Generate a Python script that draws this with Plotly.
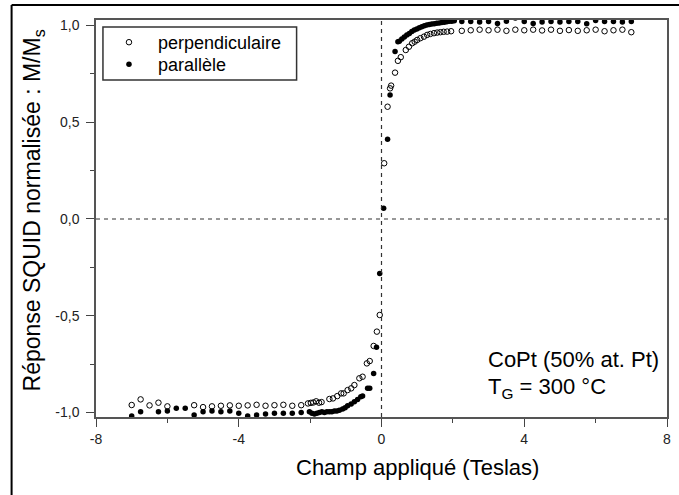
import plotly.graph_objects as go

# Applied field (T) and normalised SQUID response M/Ms, perpendicular geometry
perp_field = [-7.0, -6.75, -6.5, -6.25, -6.0, -5.25, -5.0, -4.75, -4.5, -4.25,
              -4.0, -3.75, -3.5, -3.25, -3.0, -2.75, -2.5, -2.25,
              -2.06, -1.98, -1.91, -1.83, -1.75, -1.68,
              -1.46, -1.36, -1.24, -1.13, -1.06, -0.95, -0.85, -0.76, -0.62, -0.53,
              -0.41, -0.33, -0.22, -0.13, -0.05, 0.075, 0.17, 0.24, 0.27, 0.38,
              0.46, 0.54, 0.68, 0.77, 0.86, 0.93, 1.0, 1.09, 1.19, 1.28, 1.37,
              1.47, 1.56, 1.65, 1.74, 1.84, 1.95,
              2.25, 2.5, 2.75, 3.0, 3.25, 3.5, 3.75, 4.0, 4.25, 4.5,
              4.75, 5.0, 5.25, 5.5, 5.75, 6.0, 6.25, 6.5, 6.75, 7.0]
perp_moment = [-0.961, -0.932, -0.963, -0.949, -0.968, -0.962, -0.972, -0.968, -0.965, -0.963,
               -0.965, -0.963, -0.960, -0.965, -0.962, -0.960, -0.965, -0.962,
               -0.953, -0.950, -0.948, -0.942, -0.949, -0.946,
               -0.930, -0.927, -0.915, -0.901, -0.901, -0.884, -0.875, -0.858, -0.823, -0.815,
               -0.746, -0.734, -0.656, -0.582, -0.496, 0.288, 0.580, 0.675, 0.689, 0.756,
               0.817, 0.836, 0.873, 0.890, 0.908, 0.916, 0.925, 0.934, 0.942, 0.951, 0.956,
               0.960, 0.963, 0.965, 0.967, 0.968, 0.970,
               0.972, 0.975, 0.978, 0.975, 0.978, 0.972, 0.978, 0.975, 0.978, 0.974,
               0.978, 0.972, 0.976, 0.972, 0.975, 0.978, 0.970, 0.975, 0.978, 0.965]

# Parallel geometry
par_field = [-7.0, -6.75, -6.25, -6.0, -5.75, -5.5, -5.25, -5.0, -4.75, -4.5,
             -4.25, -4.0, -3.75, -3.5, -3.25, -3.0, -2.75, -2.5, -2.25,
             -2.02, -1.95, -1.88, -1.81, -1.74, -1.67, -1.60, -1.53, -1.46, -1.39,
             -1.32, -1.25, -1.18, -1.09, -1.02, -0.95, -0.85, -0.76, -0.67, -0.58,
             -0.53, -0.39, -0.33, -0.22, -0.14, -0.05, 0.06, 0.17, 0.24, 0.38, 0.46,
             0.50, 0.57, 0.64, 0.71, 0.78, 0.85, 0.92, 0.99, 1.06, 1.13, 1.20, 1.27,
             1.34, 1.41, 1.48, 1.55, 1.62, 1.69, 1.76, 1.83, 1.90, 1.97, 2.04,
             2.25, 2.5, 2.75, 3.0, 3.25, 3.5, 3.75, 4.0, 4.25, 4.5,
             4.75, 5.0, 5.25, 5.5, 5.75, 6.0, 6.25, 6.5, 6.75, 7.0]
par_moment = [-1.018, -0.996, -0.996, -0.992, -0.978, -0.978, -1.013, -0.996, -0.992, -0.996,
              -0.992, -1.004, -1.018, -1.013, -1.008, -1.004, -1.004, -1.004, -1.0,
              -0.996, -1.004, -1.008, -1.004, -1.0, -0.996, -1.0, -0.996, -0.996, -0.996,
              -0.992, -0.992, -0.988, -0.982, -0.975, -0.965, -0.956, -0.944, -0.932, -0.918,
              -0.915, -0.875, -0.875, -0.798, -0.663, -0.281, 0.055, 0.412, 0.641, 0.865, 0.916,
              0.918, 0.930, 0.940, 0.950, 0.958, 0.968, 0.976, 0.982, 0.988, 0.993, 0.998, 1.002,
              1.005, 1.007, 1.009, 1.011, 1.013, 1.015, 1.017, 1.019, 1.021, 1.022, 1.024,
              1.020, 1.020, 1.018, 1.020, 1.010, 1.022, 1.038, 1.020, 1.010, 1.018,
              1.020, 1.018, 1.020, 1.020, 1.008, 1.025, 1.020, 1.020, 1.018, 1.020]

x_ticks = [-8, -4, 0, 4, 8]
x_tick_text = ["-8", "-4", "0", "4", "8"]
x_minor = [-6, -2, 2, 6]
y_ticks = [-1.0, -0.5, 0.0, 0.5, 1.0]
y_tick_text = ["-1,0", "-0,5", "0,0", "0,5", "1,0"]
y_minor = [-0.75, -0.25, 0.25, 0.75]

FONT = "Liberation Sans, Arial, sans-serif"
W, H = 679, 495
L, R, T, B = 96, 8, 20, 78
PW, PH = W - L - R, H - T - B


def px_x(p):
    return (p - L) / PW


def px_y(p):
    return (H - B - p) / PH


fig = go.Figure()
fig.add_trace(go.Scatter(
    x=perp_field, y=perp_moment, mode="markers", name="perpendiculaire", legend="legend",
    marker=dict(symbol="circle-open", size=5.5, color="black", line=dict(width=1)),
))
fig.add_trace(go.Scatter(
    x=par_field, y=par_moment, mode="markers", name="parallèle", legend="legend2",
    marker=dict(symbol="circle", size=5.5, color="black"),
))

axis_common = dict(
    showline=True, linecolor="#555", linewidth=1.5, mirror=True,
    ticks="outside", ticklen=8, tickwidth=1, tickcolor="#444",
    showgrid=False, zeroline=False,
    tickfont=dict(family=FONT, size=14, color="#222"),
)
fig.update_xaxes(range=[-8, 8], tickmode="array", tickvals=x_ticks, ticktext=x_tick_text,
                 minor=dict(tickmode="array", tickvals=x_minor, ticks="outside", ticklen=4,
                            tickcolor="#444"),
                 **axis_common)
fig.update_yaxes(range=[-1.023, 1.028], tickmode="array", tickvals=y_ticks, ticktext=y_tick_text,
                 minor=dict(tickmode="array", tickvals=y_minor, ticks="outside", ticklen=4,
                            tickcolor="#444"),
                 ticklabelstandoff=4,
                 **axis_common)

shapes = [
    # dashed reference lines through the origin
    dict(type="line", xref="x", yref="paper", x0=0, x1=0, y0=0, y1=1,
         line=dict(color="#333", width=1.2, dash="4px,4px")),
    dict(type="line", xref="paper", yref="y", x0=0, x1=1, y0=0, y1=0,
         line=dict(color="#333", width=1.2, dash="4px,4px")),
    # legend frame
    dict(type="rect", xref="paper", yref="paper",
         x0=px_x(103), x1=px_x(298), y0=px_y(80), y1=px_y(27),
         line=dict(color="#333", width=1.5), fillcolor="rgba(0,0,0,0)"),
    # frame lines of the figure
    dict(type="line", xref="paper", yref="paper",
         x0=px_x(11), x1=px_x(W + 5), y0=px_y(5), y1=px_y(5),
         line=dict(color="black", width=2)),
    dict(type="line", xref="paper", yref="paper",
         x0=px_x(11), x1=px_x(11), y0=px_y(5), y1=px_y(H + 5),
         line=dict(color="black", width=2)),
]

annotations = [
    dict(text="Champ appliqué (Teslas)", xref="paper", yref="paper",
         x=px_x(420), y=px_y(467), xanchor="center", yanchor="middle", showarrow=False,
         font=dict(family=FONT, size=22, color="black")),
    dict(text="Réponse SQUID normalisée : M/M<sub>s</sub>", xref="paper", yref="paper",
         x=px_x(33), y=px_y(210), xanchor="center", yanchor="middle", textangle=-90,
         showarrow=False, font=dict(family=FONT, size=23, color="black")),
    dict(text="CoPt (50% at. Pt)", xref="paper", yref="paper",
         x=px_x(489), y=px_y(359), xanchor="left", yanchor="middle", showarrow=False,
         font=dict(family=FONT, size=22, color="black")),
    dict(text="T<sub>G</sub> = 300 °C", xref="paper", yref="paper",
         x=px_x(489), y=px_y(388), xanchor="left", yanchor="middle", showarrow=False,
         font=dict(family=FONT, size=22, color="black")),
]

legend_style = dict(xanchor="left", yanchor="top", bgcolor="rgba(0,0,0,0)", borderwidth=0,
                    font=dict(family=FONT, size=18, color="black"), itemwidth=48)

fig.update_layout(
    width=W, height=H,
    margin=dict(l=L, r=R, t=T, b=B),
    paper_bgcolor="white", plot_bgcolor="white",
    showlegend=True,
    legend=dict(x=px_x(100), y=px_y(24), **legend_style),
    legend2=dict(x=px_x(100), y=px_y(46), **legend_style),
    shapes=shapes,
    annotations=annotations,
)

fig.write_html("out.html")
